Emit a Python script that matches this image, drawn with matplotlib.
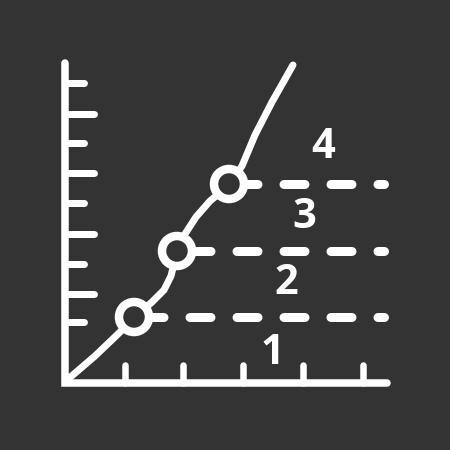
import matplotlib.pyplot as plt
import numpy as np

plt.rcParams['lines.scale_dashes'] = False

bg = '#333333'
chalk = '#ffffff'
PX = 72 / 100  # points per pixel at dpi 100

# icon coordinates (pixels, y grows downwards)
axis_x0, axis_y0 = 65, 383
axis_top = 63
axis_right = 387

ytick_pos = [83, 114, 143, 173, 203, 234, 264, 294, 322]
ytick_len = [22, 32, 22, 32, 22, 32, 22, 32, 22]
xtick_pos = [125, 183, 243, 303, 363]
xtick_len = 21

curve_x = [67, 95, 118, 134, 152, 164, 171, 177, 185, 196, 210, 228, 242, 255, 272, 293]
curve_y = [380, 356, 334, 318, 302, 290, 276, 252, 234, 217, 201, 186, 166, 135, 102, 65]

mark_x = [134, 177, 229]
mark_y = [317, 251, 184]
mark_r = 15

level_end = 388
labels = ['1', '2', '3', '4']
label_x = [272, 286, 304, 323]
label_y = [353, 284, 218, 147]

fig = plt.figure(figsize=(4.5, 4.5), dpi=100, facecolor=bg)
ax = fig.add_axes([0, 0, 1, 1])
ax.set_facecolor(bg)
ax.set_xlim(0, 450)
ax.set_ylim(450, 0)
ax.axis('off')

lw_axis = 7.5 * PX
# axes
ax.plot([axis_x0, axis_x0, axis_right], [axis_top, axis_y0, axis_y0], color=chalk,
        lw=lw_axis, solid_capstyle='round', solid_joinstyle='miter')
# y ticks
for y, l in zip(ytick_pos, ytick_len):
    ax.plot([axis_x0, axis_x0 + l - 3.5], [y, y], color=chalk, lw=7 * PX, solid_capstyle='round')
# x ticks
for x in xtick_pos:
    ax.plot([x, x], [axis_y0, axis_y0 - xtick_len + 3], color=chalk, lw=6.5 * PX, solid_capstyle='round')

# curve
ax.plot(curve_x, curve_y, color=chalk, lw=7 * PX, solid_capstyle='round', solid_joinstyle='round')

# dashed levels, dashes aligned across rows
dash_on, dash_off, phase0 = 21, 26, 142.5
for x0, y0 in zip(mark_x, mark_y):
    off = ((x0 - phase0) % (dash_on + dash_off)) * PX
    ax.plot([x0, level_end - 4.5], [y0, y0], color=chalk, lw=9 * PX,
            linestyle=(off, (dash_on * PX, dash_off * PX)), dash_capstyle='round', zorder=2)

# circles
for x0, y0 in zip(mark_x, mark_y):
    ax.add_patch(plt.Circle((x0, y0), mark_r, facecolor=bg, edgecolor=chalk,
                            lw=8.5 * PX, zorder=4))

for t, x, y in zip(labels, label_x, label_y):
    ax.text(x, y, t, color=chalk, fontsize=30, fontweight='bold', family='Open Sans',
            ha='center', va='center')

fig.savefig('out.png', dpi=100, facecolor=bg)
